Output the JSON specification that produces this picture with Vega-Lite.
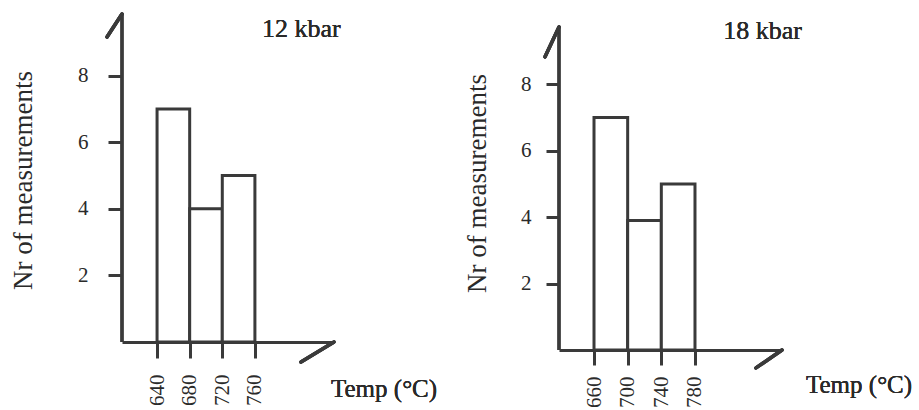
{
  "$schema": "https://vega.github.io/schema/vega-lite/v6.json",
  "background": "white",
  "padding": {"left": 9, "top": 12, "right": 0, "bottom": 0},
  "spacing": 225,
  "bounds": "flush",
  "config": {
    "view": {"stroke": null},
    "font": "Liberation Serif",
    "axis": {"grid": false, "labelFont": "Liberation Serif", "titleFont": "Liberation Serif", "labelColor": "#2a2a2a", "titleColor": "#2a2a2a", "titleFontWeight": "normal", "tickColor": "#3a3a3a", "domainColor": "#3a3a3a"}
  },
  "datasets": {
    "p12": [
      {"lo": 640, "hi": 680, "count": 7},
      {"lo": 680, "hi": 720, "count": 4},
      {"lo": 720, "hi": 760, "count": 5}
    ],
    "p18": [
      {"lo": 660, "hi": 700, "count": 7},
      {"lo": 700, "hi": 740, "count": 3.9},
      {"lo": 740, "hi": 780, "count": 5}
    ]
  },
  "hconcat": [
    {
      "width": 212,
      "height": 328,
      "data": {"name": "p12"},
      "layer": [
        {
          "mark": {"type": "rect", "fill": "white", "stroke": "#3a3a3a", "strokeWidth": 3},
          "encoding": {
            "x": {"field": "lo", "type": "quantitative", "scale": {"domain": [597, 857], "nice": false, "zero": false},
              "axis": {"values": [640, 680, 720, 760], "title": null, "domainWidth": 3, "tickSize": 16, "tickWidth": 3, "labelAngle": -90, "labelFontSize": 21, "labelPadding": 16}},
            "x2": {"field": "hi"},
            "y": {"field": "count", "type": "quantitative", "scale": {"domain": [0, 9.85], "nice": false, "zero": false},
              "axis": {"values": [2, 4, 6, 8], "domain": false, "tickSize": 14, "tickWidth": 3, "labelFontSize": 21, "labelPadding": 20,
                "title": "Nr of measurements", "titleFontSize": 27, "titleX": -99, "titleY": 166, "titleAngle": 270, "titleBaseline": "middle", "titleAlign": "center"}},
            "y2": {"datum": 0}
          }
        },
        {
          "mark": {"type": "rule", "stroke": "#3a3a3a", "strokeWidth": 3},
          "encoding": {"x": {"datum": 597, "type": "quantitative"}, "y": {"datum": 0, "type": "quantitative"}, "y2": {"datum": 9.85}}
        },
        {
          "mark": {"type": "rule", "stroke": "#3a3a3a", "strokeWidth": 3.5, "strokeCap": "round"},
          "encoding": {"x": {"datum": 597, "type": "quantitative"}, "x2": {"datum": 578.6}, "y": {"datum": 9.85, "type": "quantitative"}, "y2": {"datum": 9.16}}
        },
        {
          "mark": {"type": "rule", "stroke": "#3a3a3a", "strokeWidth": 3.5, "strokeCap": "round"},
          "encoding": {"x": {"datum": 857, "type": "quantitative"}, "x2": {"datum": 816.5}, "y": {"datum": 0, "type": "quantitative"}, "y2": {"datum": -0.6}}
        },
        {
          "mark": {"type": "text", "text": "12 kbar", "fontSize": 26, "font": "Liberation Serif", "color": "#2a2a2a", "align": "center", "baseline": "alphabetic"},
          "encoding": {"x": {"datum": 817, "type": "quantitative"}, "y": {"datum": 9.16, "type": "quantitative"}}
        },
        {
          "mark": {"type": "text", "text": "Temp (°C)", "fontSize": 25, "font": "Liberation Serif", "color": "#2a2a2a", "align": "left", "baseline": "alphabetic"},
          "encoding": {"x": {"datum": 853.3, "type": "quantitative"}, "y": {"datum": -1.65, "type": "quantitative"}}
        }
      ]
    },
    {
      "width": 223,
      "height": 336,
      "data": {"name": "p18"},
      "layer": [
        {
          "mark": {"type": "rect", "fill": "white", "stroke": "#3a3a3a", "strokeWidth": 3},
          "encoding": {
            "x": {"field": "lo", "type": "quantitative", "scale": {"domain": [618.4, 883.4], "nice": false, "zero": false},
              "axis": {"values": [660, 700, 740, 780], "title": null, "domainWidth": 3, "tickSize": 15, "tickWidth": 3, "labelAngle": -90, "labelFontSize": 21, "labelPadding": 11}},
            "x2": {"field": "hi"},
            "y": {"field": "count", "type": "quantitative", "scale": {"domain": [0, 10.12], "nice": false, "zero": false},
              "axis": {"values": [2, 4, 6, 8], "domain": false, "tickSize": 13, "tickWidth": 3, "labelFontSize": 21, "labelPadding": 15,
                "title": "Nr of measurements", "titleFontSize": 27, "titleX": -82, "titleY": 169, "titleAngle": 270, "titleBaseline": "middle", "titleAlign": "center"}},
            "y2": {"datum": 0}
          }
        },
        {
          "mark": {"type": "rule", "stroke": "#3a3a3a", "strokeWidth": 3},
          "encoding": {"x": {"datum": 618.4, "type": "quantitative"}, "y": {"datum": 0, "type": "quantitative"}, "y2": {"datum": 9.73}}
        },
        {
          "mark": {"type": "rule", "stroke": "#3a3a3a", "strokeWidth": 3.5, "strokeCap": "round"},
          "encoding": {"x": {"datum": 618.4, "type": "quantitative"}, "x2": {"datum": 601.8}, "y": {"datum": 9.73, "type": "quantitative"}, "y2": {"datum": 8.83}}
        },
        {
          "mark": {"type": "rule", "stroke": "#3a3a3a", "strokeWidth": 3.5, "strokeCap": "round"},
          "encoding": {"x": {"datum": 883.4, "type": "quantitative"}, "x2": {"datum": 852.5}, "y": {"datum": 0, "type": "quantitative"}, "y2": {"datum": -0.54}}
        },
        {
          "mark": {"type": "text", "text": "18 kbar", "fontSize": 26, "font": "Liberation Serif", "color": "#2a2a2a", "align": "center", "baseline": "alphabetic"},
          "encoding": {"x": {"datum": 860.2, "type": "quantitative"}, "y": {"datum": 9.37, "type": "quantitative"}}
        },
        {
          "mark": {"type": "text", "text": "Temp (°C)", "fontSize": 25, "font": "Liberation Serif", "color": "#2a2a2a", "align": "left", "baseline": "alphabetic"},
          "encoding": {"x": {"datum": 911.9, "type": "quantitative"}, "y": {"datum": -1.3, "type": "quantitative"}}
        }
      ]
    }
  ]
}
